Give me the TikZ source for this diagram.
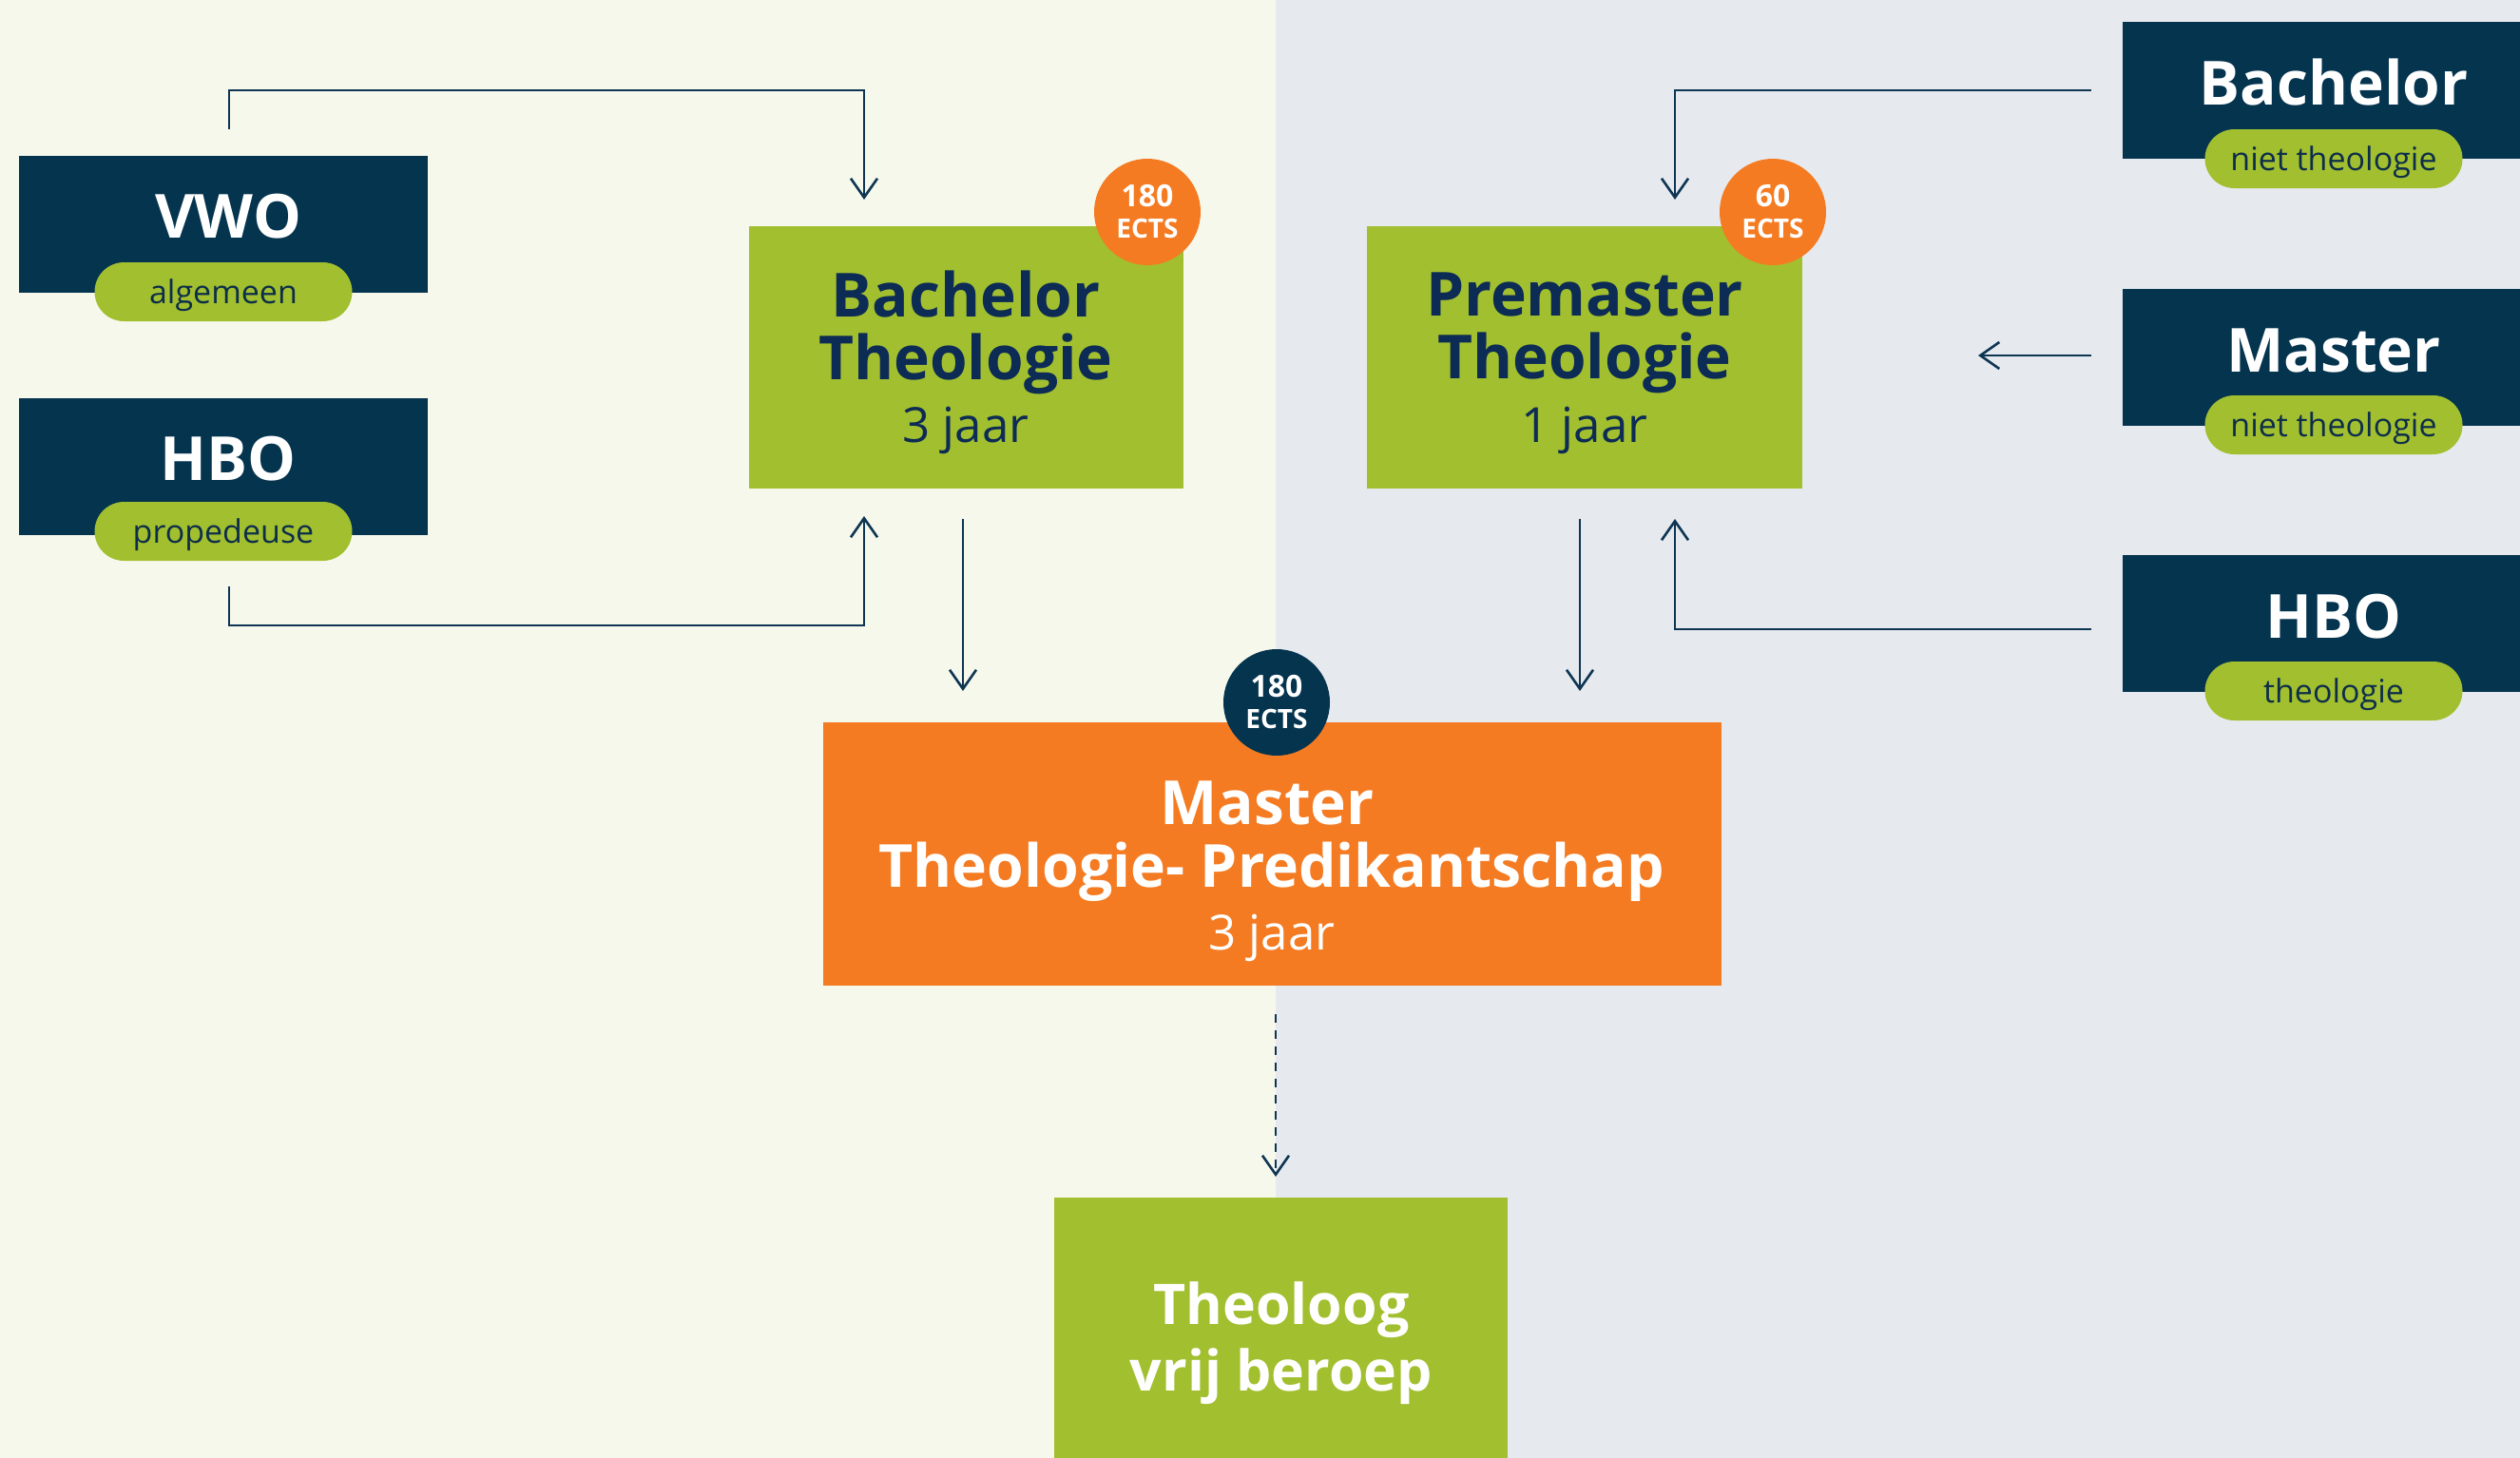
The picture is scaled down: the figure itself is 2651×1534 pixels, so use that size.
\documentclass[tikz,border=0pt]{standalone}
\usepackage{fontspec}
\setmainfont{Open Sans}
\usetikzlibrary{arrows.meta}
\definecolor{navy}{HTML}{05344F}
\definecolor{tnavy}{HTML}{0C2B55}
\definecolor{pnavy}{HTML}{0D2E4A}
\definecolor{lime}{HTML}{A2BF2F}
\definecolor{orng}{HTML}{F47B22}
\definecolor{bgl}{HTML}{F6F8EC}
\definecolor{bgr}{HTML}{E6EAEF}
\definecolor{lnc}{HTML}{0E3552}
\tikzset{
  darkbox/.style={rectangle, fill=navy, inner sep=0pt},
  greenbox/.style={rectangle, fill=lime, inner sep=0pt},
  orangebox/.style={rectangle, fill=orng, inner sep=0pt},
  pill/.style={rectangle, rounded corners=31pt, fill=lime, inner sep=0pt, minimum width=271pt, minimum height=62pt, text height=30pt, text depth=5pt, text=pnavy, font=\fontsize{34}{40}\selectfont},
  badge/.style={circle, inner sep=0pt, minimum size=112pt, text=white, align=center, font=\fontsize{28}{33}\selectfont\bfseries},
  bigw/.style={anchor=base, inner sep=0pt, text=white, font=\fontsize{64}{70}\selectfont\bfseries},
  bign/.style={anchor=base, inner sep=0pt, text=tnavy, font=\fontsize{64}{70}\selectfont\bfseries},
  yearn/.style={anchor=base, inner sep=0pt, text=tnavy, font=\fontsize{51}{60}\selectfont},
  yearw/.style={anchor=base, inner sep=0pt, text=white, font=\fontsize{51}{60}\selectfont},
  arr/.style={draw=lnc, line width=2.6pt, -{Straight Barb[length=20pt,width=28pt,line width=2.6pt]}},
}
\newcommand{\badgetext}[1]{{\fontsize{32}{33}\selectfont #1}\\ECTS}
\begin{document}
\begin{tikzpicture}[x=1pt,y=-1pt]
\fill[bgl] (0,0) rectangle (1342,1534);
\fill[bgr] (1342,0) rectangle (2651,1534);
\useasboundingbox (0,0) rectangle (2651,1534);

% left entry boxes
\node[darkbox, minimum width=430pt, minimum height=144pt] (vwo) at (235,236) {};
\node[bigw] (vwot) at (240,250) {VWO};
\node[pill] (vwop) at (235,307) {algemeen};
\node[darkbox, minimum width=430pt, minimum height=144pt] (hbo) at (235,491) {};
\node[bigw] (hbot) at (240,505) {HBO};
\node[pill] (hbop) at (235,559) {propedeuse};

% right entry boxes
\node[darkbox, minimum width=418pt, minimum height=144pt] (bnt) at (2442,95) {};
\node[bigw] (bntt) at (2455,110) {Bachelor};
\node[pill] (bntp) at (2455,167) {niet theologie};
\node[darkbox, minimum width=418pt, minimum height=144pt] (mnt) at (2442,376) {};
\node[bigw] (mntt) at (2455,391) {Master};
\node[pill] (mntp) at (2455,447) {niet theologie};
\node[darkbox, minimum width=418pt, minimum height=144pt] (hbt) at (2442,656) {};
\node[bigw] (hbtt) at (2455,671) {HBO};
\node[pill] (hbtp) at (2455,727) {theologie};

% Bachelor Theologie
\node[greenbox, minimum width=457pt, minimum height=276pt] (bt) at (1016,375.5) {};
\node[bign] (bt1) at (1016,333) {Bachelor};
\node[bign] (bt2) at (1016,399) {Theologie};
\node[yearn] (bt3) at (1016,465) {3 jaar};
\node[badge, fill=orng] (btb) at (1207,223) {\badgetext{180}};

% Premaster Theologie
\node[greenbox, minimum width=458pt, minimum height=276pt] (pt) at (1667,375.5) {};
\node[bign] (pt1) at (1667,332) {Premaster};
\node[bign] (pt2) at (1667,398) {Theologie};
\node[yearn] (pt3) at (1667,465) {1 jaar};
\node[badge, fill=orng] (ptb) at (1865,223) {\badgetext{60}};

% Master
\node[orangebox, minimum width=945pt, minimum height=277pt] (m) at (1338.5,898) {};
\node[bigw] (m1) at (1333,867) {Master};
\node[bigw, font=\fontsize{62.5}{70}\selectfont\bfseries] (m2) at (1338,933) {Theologie- Predikantschap};
\node[yearw] (m3) at (1338,999) {3 jaar};
\node[badge, fill=navy] (mb) at (1343,739) {\badgetext{180}};

% Theoloog vrij beroep
\node[greenbox, minimum width=477pt, minimum height=274pt] (tv) at (1347.5,1397) {};
\node[bigw, font=\fontsize{59}{70}\selectfont\bfseries] (tv1) at (1348,1393) {Theoloog};
\node[bigw, font=\fontsize{59}{70}\selectfont\bfseries] (tv2) at (1348,1463) {vrij beroep};

% connector end points
\coordinate (vwoout) at (241,136);
\coordinate (hboout) at (241,617);
\coordinate (btin1) at (909,210);
\coordinate (btin2) at (909,543);
\coordinate (btout) at (1013,546);
\coordinate (mtin1) at (1013,727);
\coordinate (bntout) at (2200,95);
\coordinate (mntout) at (2200,374);
\coordinate (hbtout) at (2200,662);
\coordinate (ptin1) at (1762,210);
\coordinate (ptin2) at (2081,374);
\coordinate (ptin3) at (1762,546);
\coordinate (ptout) at (1662,546);
\coordinate (mtin2) at (1662,727);
\coordinate (mout) at (1342,1067);
\coordinate (tvin) at (1342,1238);

\draw[arr] (vwoout) -- ++(0,-41) -| (btin1);
\draw[arr] (hboout) -- ++(0,41) -| (btin2);
\draw[arr] (btout) -- (mtin1);
\draw[arr] (bntout) -| (ptin1);
\draw[arr] (mntout) -- (ptin2);
\draw[arr] (hbtout) -| (ptin3);
\draw[arr] (ptout) -- (mtin2);
\draw[arr, dash pattern=on 9pt off 8pt] (mout) -- (tvin);
\end{tikzpicture}
\end{document}
